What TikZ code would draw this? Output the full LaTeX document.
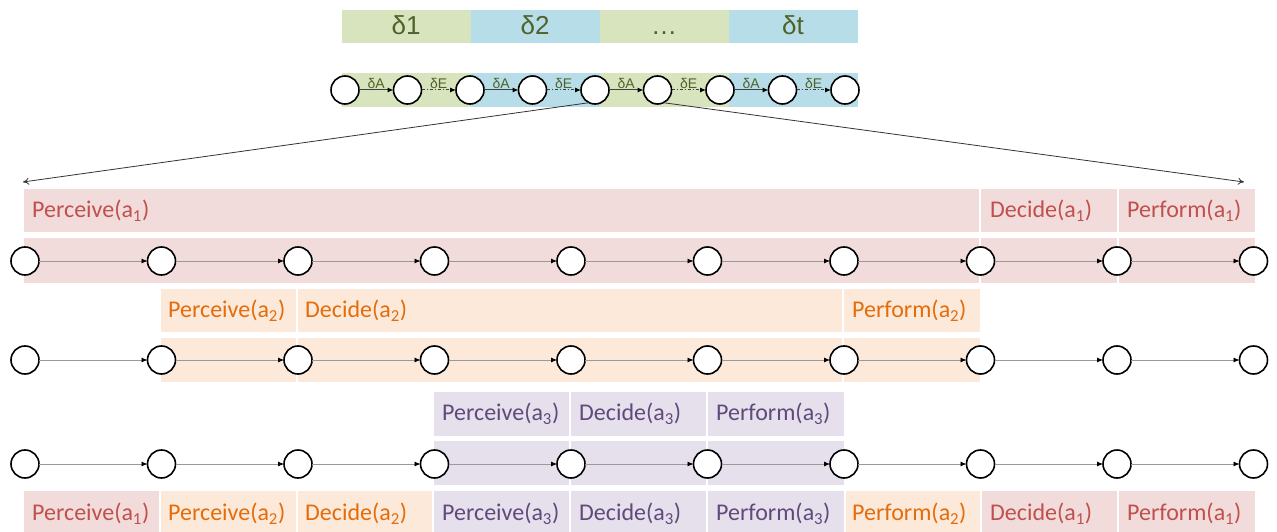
\documentclass[tikz,border=0pt]{standalone}
\usepackage{fontspec}
\setmainfont{Carlito}
\newfontfamily\deltafont{Liberation Sans}
\usetikzlibrary{positioning, arrows.meta}
\definecolor{topgreen}{HTML}{D7E4BD}
\definecolor{topblue}{HTML}{B7DEE8}
\definecolor{olive}{HTML}{4F6228}
\definecolor{pinkbg}{HTML}{F2DCDB}
\definecolor{pinktxt}{HTML}{C0504D}
\definecolor{orangebg}{HTML}{FDE9D9}
\definecolor{orangetxt}{HTML}{E46C0A}
\definecolor{purplebg}{HTML}{E5E0EC}
\definecolor{purpletxt}{HTML}{604A7B}
\tikzset{
  x=1pt, y=-1pt,
  state/.style={draw, circle, fill=white, line width=1.6pt, minimum size=28pt,
    inner sep=0pt, outer sep=0pt},
  band/.style={draw=white, line width=1.5pt},
  slot/.style={text=olive, font=\deltafont\fontsize{26}{30}\selectfont,
    text height=19pt, text depth=5pt},
  lbl/.style={anchor=west, inner sep=0pt, font=\fontsize{24}{28}\selectfont},
  tick/.style={draw=gray!80, line width=0.8pt, -{Latex[length=6pt, width=5pt, color=black]}},
  stepA/.style={draw=black!75, line width=1pt, -{Latex[length=6pt, width=5pt, color=black]}},
  stepE/.style={stepA, dash dot},
  dlbl/.style={midway, above, inner sep=0.5pt, text=olive, font=\deltafont\fontsize{14}{16}\selectfont}
}
\begin{document}
\begin{tikzpicture}
  \useasboundingbox (0,0) rectangle (1277,532);

  % time slots
  \fill[topgreen] (342,10) rectangle (471,43);
  \fill[topblue] (471,10) rectangle (600,43);
  \fill[topgreen] (600,10) rectangle (729,43);
  \fill[topblue] (729,10) rectangle (858,43);
  \node[slot] (d1) at (406,28) {δ1};
  \node[slot] (d2) at (535,28) {δ2};
  \node[slot] (dd) at (664,28) {\dots};
  \node[slot] (dt) at (793,28) {δt};

  \fill[topgreen] (342,73) rectangle (471,107);
  \fill[topblue] (471,73) rectangle (600,107);
  \fill[topgreen] (600,73) rectangle (729,107);
  \fill[topblue] (729,73) rectangle (858,107);

  \node[state] (t0) at (345,90) {};
  \foreach \i [remember=\i as \j (initially 0)] in {1,...,8}
    \node[state, right=34.5pt of t\j] (t\i) {};
  \foreach \a/\b in {0/1, 2/3, 4/5, 6/7}
    \draw[stepA] (t\a) -- node[dlbl] {δA} (t\b);
  \foreach \a/\b in {1/2, 3/4, 5/6, 7/8}
    \draw[stepE] (t\a) -- node[dlbl] {δE} (t\b);

  % zoom lines
  \coordinate (zl) at (23,182);
  \coordinate (zr) at (1244,182);
  \draw[black!80, line width=0.8pt, -{To[length=6pt, width=7pt]}] (t4.245) -- (zl);
  \draw[black!80, line width=0.8pt, -{To[length=6pt, width=7pt]}] (t5.295) -- (zr);

  % a1
  \draw[band, fill=pinkbg] (23,188) rectangle (980,233);
  \draw[band, fill=pinkbg] (980,188) rectangle (1118,233);
  \draw[band, fill=pinkbg] (1118,188) rectangle (1256,233);
  \draw[band, fill=pinkbg] (23,237) rectangle (980,284);
  \draw[band, fill=pinkbg] (980,237) rectangle (1118,284);
  \draw[band, fill=pinkbg] (1118,237) rectangle (1256,284);
  \node[lbl, text=pinktxt] (p1) at (32,211) {Perceive(a\textsubscript{1})};
  \node[lbl, text=pinktxt] (c1) at (990,211) {Decide(a\textsubscript{1})};
  \node[lbl, text=pinktxt] (f1) at (1127,211) {Perform(a\textsubscript{1})};

  % a2
  \draw[band, fill=orangebg] (160,288) rectangle (297,333);
  \draw[band, fill=orangebg] (297,288) rectangle (843,333);
  \draw[band, fill=orangebg] (843,288) rectangle (981,333);
  \draw[band, fill=orangebg] (160,337) rectangle (297,383);
  \draw[band, fill=orangebg] (297,337) rectangle (843,383);
  \draw[band, fill=orangebg] (843,337) rectangle (981,383);
  \node[lbl, text=orangetxt] (p2) at (168,311) {Perceive(a\textsubscript{2})};
  \node[lbl, text=orangetxt] (c2) at (305,311) {Decide(a\textsubscript{2})};
  \node[lbl, text=orangetxt] (f2) at (852,311) {Perform(a\textsubscript{2})};

  % a3
  \draw[band, fill=purplebg] (433,391) rectangle (570,437);
  \draw[band, fill=purplebg] (570,391) rectangle (707,437);
  \draw[band, fill=purplebg] (707,391) rectangle (845,437);
  \draw[band, fill=purplebg] (433,440) rectangle (570,486);
  \draw[band, fill=purplebg] (570,440) rectangle (707,486);
  \draw[band, fill=purplebg] (707,440) rectangle (845,486);
  \node[lbl, text=purpletxt] (p3) at (442,414) {Perceive(a\textsubscript{3})};
  \node[lbl, text=purpletxt] (c3) at (579,414) {Decide(a\textsubscript{3})};
  \node[lbl, text=purpletxt] (f3) at (716,414) {Perform(a\textsubscript{3})};

  % timelines
  \foreach \r/\y in {1/261, 2/360, 3/464} {
    \node[state] (r\r n0) at (25,\y) {};
    \foreach \i [remember=\i as \j (initially 0)] in {1,...,9}
      \node[state, right=108.5pt of r\r n\j] (r\r n\i) {};
    \foreach \i [remember=\i as \j (initially 0)] in {1,...,9}
      \draw[tick] (r\r n\j) -- (r\r n\i);
  }

  % interleaved schedule
  \draw[band, fill=pinkbg] (23,490) rectangle (160,534);
  \draw[band, fill=orangebg] (160,490) rectangle (297,534);
  \draw[band, fill=orangebg] (297,490) rectangle (433,534);
  \draw[band, fill=purplebg] (433,490) rectangle (570,534);
  \draw[band, fill=purplebg] (570,490) rectangle (707,534);
  \draw[band, fill=purplebg] (707,490) rectangle (845,534);
  \draw[band, fill=orangebg] (845,490) rectangle (981,534);
  \draw[band, fill=pinkbg] (981,490) rectangle (1118,534);
  \draw[band, fill=pinkbg] (1118,490) rectangle (1256,534);
  \node[lbl, text=pinktxt] (s1) at (32,514) {Perceive(a\textsubscript{1})};
  \node[lbl, text=orangetxt] (s2) at (168,514) {Perceive(a\textsubscript{2})};
  \node[lbl, text=orangetxt] (s3) at (305,514) {Decide(a\textsubscript{2})};
  \node[lbl, text=purpletxt] (s4) at (442,514) {Perceive(a\textsubscript{3})};
  \node[lbl, text=purpletxt] (s5) at (579,514) {Decide(a\textsubscript{3})};
  \node[lbl, text=purpletxt] (s6) at (716,514) {Perform(a\textsubscript{3})};
  \node[lbl, text=orangetxt] (s7) at (852,514) {Perform(a\textsubscript{2})};
  \node[lbl, text=pinktxt] (s8) at (990,514) {Decide(a\textsubscript{1})};
  \node[lbl, text=pinktxt] (s9) at (1127,514) {Perform(a\textsubscript{1})};
\end{tikzpicture}
\end{document}
